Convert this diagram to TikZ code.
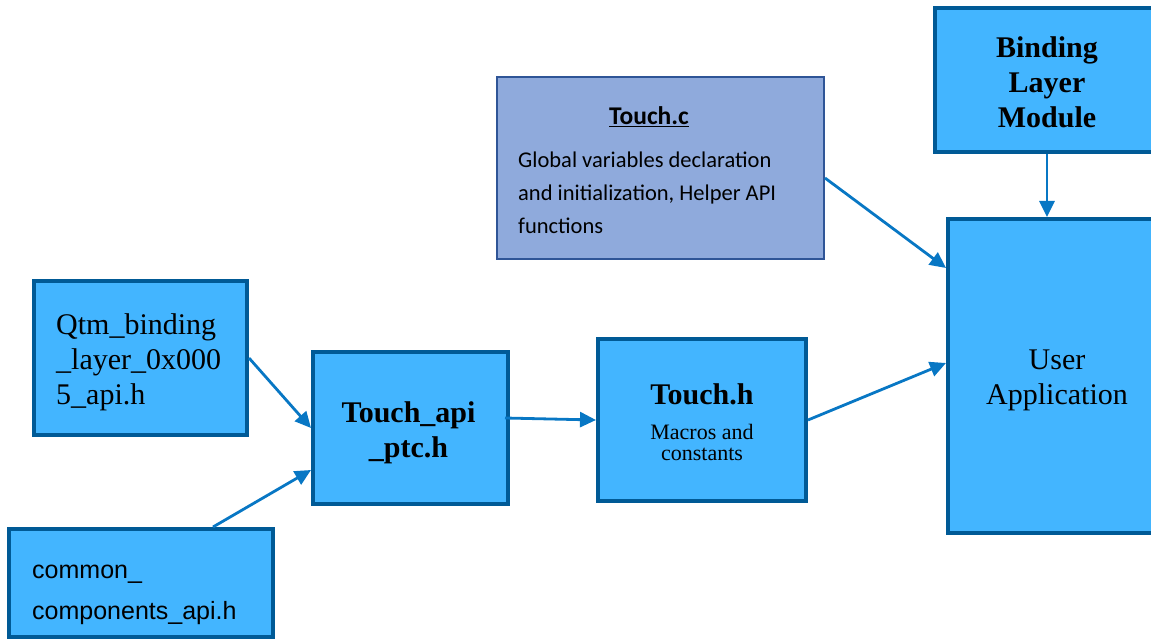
\documentclass[tikz,border=0pt]{standalone}
\usepackage{fontspec}
\setmainfont{Liberation Serif}
\newfontfamily\carlito{Carlito}
\newfontfamily\arialf{Liberation Sans}
\usetikzlibrary{arrows.meta,calc}
\definecolor{boxfill}{HTML}{43B5FF}
\definecolor{boxline}{HTML}{005A96}
\definecolor{arrowc}{HTML}{0877C4}
\definecolor{cfill}{HTML}{8FAADC}
\definecolor{cline}{HTML}{2F5597}
\begin{document}
\begin{tikzpicture}[x=1pt,y=-1pt,
  mbox/.style={draw=boxline,fill=boxfill,line width=4pt,rectangle,inner sep=0pt},
  txt/.style={inner sep=0pt,align=center},
  conn/.style={draw=arrowc,line width=2.8pt,-{Triangle[length=16pt,width=15pt]}},
  big/.style={font=\fontsize{30}{35}\selectfont}]
\clip (0,0) rectangle (1151,639);
\useasboundingbox (0,0) rectangle (1151,639);
% boxes
\node[mbox,minimum width=224pt,minimum height=144pt] (binding) at (1047,80) {};
\node[txt,big] (bindingt) at ([yshift=-2pt]binding.center) {\textbf{Binding}\\\textbf{Layer}\\\textbf{Module}};
\node[mbox,minimum width=218pt,minimum height=314pt] (user) at (1057,376) {};
\node[txt,big] (usert) at ([yshift=-4pt]user.center) {User\\Application};
\node[draw=cline,fill=cfill,line width=2pt,rectangle,minimum width=327pt,minimum height=182pt,inner sep=0pt] (touchc) at (660.5,168) {};
\node[anchor=center,font=\carlito\fontsize{25.5}{25.5}\selectfont\bfseries] (touchct) at (649,117) {\underline{Touch.c}};
\node[anchor=north west,align=left,inner sep=0pt,font=\carlito\fontsize{22.5}{33}\selectfont] (touchcb) at (518,152) {Global variables declaration\\and initialization, Helper API\\functions};
\node[mbox,minimum width=213pt,minimum height=154pt] (qtm) at (140.5,358) {};
\node[anchor=west,align=left,inner sep=0pt,big] (qtmt) at (56,362) {Qtm\_binding\\\_layer\_0x000\\5\_api.h};
\node[mbox,minimum width=195pt,minimum height=152pt] (api) at (410.5,428) {};
\node[txt,big] (apit) at ([xshift=-2pt,yshift=-5pt]api.center) {\textbf{Touch\_api}\\\textbf{\_ptc.h}};
\node[mbox,minimum width=208pt,minimum height=162pt] (touchh) at (702,420) {};
\node[txt,font=\fontsize{22}{21}\selectfont] (touchht) at ([yshift=-2pt]touchh.center) {{\fontsize{30}{35}\selectfont\textbf{Touch.h}}\\[14pt]Macros and\\constants};
\node[mbox,minimum width=264pt,minimum height=108pt] (common) at (141,583) {};
\node[anchor=west,align=left,inner sep=0pt,font=\arialf\fontsize{25}{41}\selectfont] (commont) at (32,595) {common\_\\components\_api.h};
% connectors
\draw[conn] (qtm.east) -- (api.west);
\draw[conn] ([xshift=72pt]common.north) -- ([yshift=-42pt]api.west);
\draw[conn] ([yshift=10pt,xshift=-5pt]api.east) -- (touchh.west);
\draw[conn] (touchh.east) -- ([yshift=13pt]user.west);
\draw[conn] ([yshift=-10pt]touchc.east) -- ([yshift=108pt]user.west);
\draw[conn] (binding.south) -- (binding.south |- user.north);
\end{tikzpicture}
\end{document}
